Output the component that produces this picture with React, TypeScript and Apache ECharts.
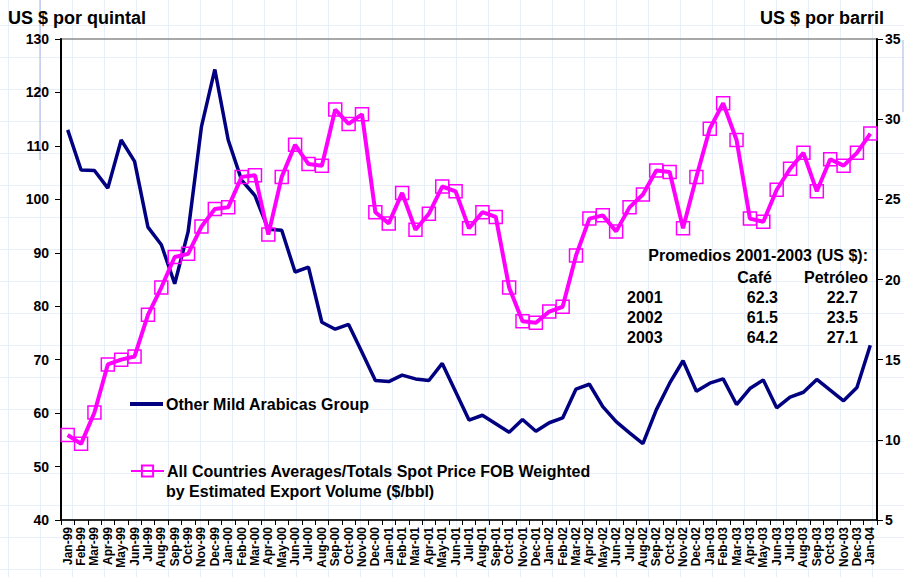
import React, { useEffect, useRef } from "react";
import * as echarts from "echarts";

const months = [
  "Jan-99","Feb-99","Mar-99","Apr-99","May-99","Jun-99","Jul-99","Aug-99","Sep-99","Oct-99","Nov-99","Dec-99",
  "Jan-00","Feb-00","Mar-00","Apr-00","May-00","Jun-00","Jul-00","Aug-00","Sep-00","Oct-00","Nov-00","Dec-00",
  "Jan-01","Feb-01","Mar-01","Apr-01","May-01","Jun-01","Jul-01","Aug-01","Sep-01","Oct-01","Nov-01","Dec-01",
  "Jan-02","Feb-02","Mar-02","Apr-02","May-02","Jun-02","Jul-02","Aug-02","Sep-02","Oct-02","Nov-02","Dec-02",
  "Jan-03","Feb-03","Mar-03","Apr-03","May-03","Jun-03","Jul-03","Aug-03","Sep-03","Oct-03","Nov-03","Dec-03",
  "Jan-04",
];

const coffee = [
  113.0, 105.5, 105.4, 102.1, 111.1, 107.1, 94.8, 91.5, 84.2, 93.9, 113.6, 124.3,
  111.1, 103.6, 100.7, 94.4, 94.2, 86.4, 87.3, 77.0, 75.7, 76.6, 71.4, 66.1,
  65.9, 67.1, 66.4, 66.1, 69.3, 64.0, 58.7, 59.6, 58.0, 56.4, 58.8, 56.6,
  58.2, 59.1, 64.5, 65.4, 61.2, 58.4, 56.3, 54.3, 60.6, 65.6, 69.8, 64.1,
  65.6, 66.4, 61.6, 64.6, 66.2, 61.0, 63.0, 63.9, 66.3, 64.3, 62.3, 64.8,
  72.7,
];

const oil = [
  10.3, 9.75, 11.7, 14.7, 15.0, 15.2, 17.8, 19.5, 21.4, 21.6, 23.3, 24.4,
  24.5, 26.4, 26.5, 22.8, 26.4, 28.4, 27.2, 27.1, 30.6, 29.7, 30.3, 24.2,
  23.5, 25.4, 23.1, 24.1, 25.8, 25.5, 23.2, 24.2, 23.9, 19.5, 17.4, 17.3,
  18.0, 18.3, 21.5, 23.8, 24.0, 23.0, 24.5, 25.3, 26.8, 26.7, 23.2, 26.4,
  29.4, 31.0, 28.7, 23.8, 23.6, 25.6, 26.9, 27.9, 25.5, 27.5, 27.1, 27.9,
  29.1,
];

const tableYears = ["2001", "2002", "2003"];
const cafeAvg = ["62.3", "61.5", "64.2"];
const petroleoAvg = ["22.7", "23.5", "27.1"];

const coffeeName = "Other Mild Arabicas Group";
const oilLine1 = "All Countries Averages/Totals Spot Price FOB Weighted";
const oilLine2 = "by Estimated Export Volume ($/bbl)";
const oilName = oilLine1 + " " + oilLine2;

const FONT = "Arial, 'Liberation Sans', sans-serif";
const NAVY = "#000080";
const MAGENTA = "#ff00ff";

export default function App() {
  const ref = useRef<HTMLDivElement>(null);

  useEffect(() => {
    if (!ref.current) return;
    const chart = echarts.init(ref.current, null, { renderer: "svg" });

    const txt = (text: string, x: number, y: number, size: number, align = "left") => ({
      type: "text",
      x,
      y,
      style: {
        text,
        font: `bold ${size}px ${FONT}`,
        fill: "#000",
        align,
        verticalAlign: "middle",
      },
      z: 100,
    });

    const graphics: any[] = [
      txt("US $ por quintal", 8, 18, 18),
      txt("US $ por barril", 884, 18, 18, "right"),
      txt(oilLine2, 166, 491, 16),
      txt("Promedios 2001-2003 (US $):", 868, 255, 16, "right"),
      txt("Café", 772, 277, 16, "right"),
      txt("Petróleo", 868, 277, 16, "right"),
      {
        type: "line",
        shape: { x1: 40, y1: 0, x2: 40, y2: 160 },
        style: { stroke: "#a8b4e0", lineWidth: 1 },
      },
      {
        type: "line",
        shape: { x1: 903, y1: 40, x2: 903, y2: 112 },
        style: { stroke: "#a8b4e0", lineWidth: 1 },
      },
    ];
    tableYears.forEach((yr, i) => {
      const y = 297 + i * 20;
      graphics.push(txt(yr, 627, y, 16));
      graphics.push(txt(cafeAvg[i], 778, y, 16, "right"));
      graphics.push(txt(petroleoAvg[i], 858, y, 16, "right"));
    });

    chart.setOption({
      animation: false,
      backgroundColor: "transparent",
      grid: {
        left: 61,
        right: 27,
        top: 39,
        bottom: 57,
        show: true,
        borderColor: "#8c8c8c",
        borderWidth: 1.5,
        backgroundColor: "transparent",
      },
      legend: [
        {
          data: [{ name: coffeeName, icon: "rect" }],
          left: 130,
          top: 396,
          padding: 0,
          itemWidth: 33,
          itemHeight: 4,
          itemGap: 0,
          textStyle: { fontFamily: FONT, fontWeight: "bold", fontSize: 16, color: "#000", padding: [0, 0, 0, -2] },
          selectedMode: false,
        },
        {
          data: [oilName],
          left: 130,
          top: 463,
          padding: 0,
          itemWidth: 33,
          itemHeight: 14,
          itemGap: 0,
          formatter: () => oilLine1,
          textStyle: { fontFamily: FONT, fontWeight: "bold", fontSize: 16, color: "#000", padding: [0, 0, 0, -2] },
          selectedMode: false,
        },
      ],
      xAxis: {
        type: "category",
        data: months,
        boundaryGap: true,
        axisLine: { show: true, lineStyle: { color: "#000", width: 1.5 } },
        axisTick: { show: true, inside: false, length: 5, lineStyle: { color: "#000", width: 1 } },
        axisLabel: {
          rotate: 90,
          interval: 0,
          margin: 7,
          fontFamily: FONT,
          fontWeight: "bold",
          fontSize: 12,
          color: "#000",
        },
        splitLine: { show: false },
      },
      yAxis: [
        {
          type: "value",
          min: 40,
          max: 130,
          interval: 10,
          position: "left",
          axisLine: { show: true, lineStyle: { color: "#000", width: 2 } },
          axisTick: { show: true, inside: false, length: 6, lineStyle: { color: "#000", width: 1 } },
          axisLabel: {
            margin: 12,
            fontFamily: FONT,
            fontWeight: "bold",
            fontSize: 14,
            color: "#000",
          },
          splitLine: { show: false },
        },
        {
          type: "value",
          min: 5,
          max: 35,
          interval: 5,
          position: "right",
          axisLine: { show: true, lineStyle: { color: "#000", width: 2 } },
          axisTick: { show: true, inside: false, length: 6, lineStyle: { color: "#000", width: 1 } },
          axisLabel: {
            margin: 8,
            fontFamily: FONT,
            fontWeight: "bold",
            fontSize: 14,
            color: "#000",
          },
          splitLine: { show: false },
        },
      ],
      series: [
        {
          name: coffeeName,
          type: "line",
          yAxisIndex: 0,
          data: coffee,
          showSymbol: false,
          symbol: "none",
          lineStyle: { color: NAVY, width: 3.5 },
          itemStyle: { color: NAVY },
        },
        {
          name: oilName,
          type: "line",
          yAxisIndex: 1,
          data: oil,
          symbol: "rect",
          symbolSize: 13,
          lineStyle: { color: MAGENTA, width: 4 },
          itemStyle: { color: "rgba(255,255,255,0)", borderColor: MAGENTA, borderWidth: 1.5 },
        },
      ],
      graphic: graphics,
    });

    return () => chart.dispose();
  }, []);

  return (
    <div
      ref={ref}
      style={{
        position: "absolute",
        left: 0,
        top: 0,
        width: 904,
        height: 577,
        backgroundColor: "#fff",
        backgroundImage:
          "linear-gradient(to right, #e8eefa 1px, transparent 1px), linear-gradient(to bottom, #e8eefa 1px, transparent 1px)",
        backgroundSize: "32px 32px",
        backgroundPosition: "8px 25px",
      }}
    />
  );
}
